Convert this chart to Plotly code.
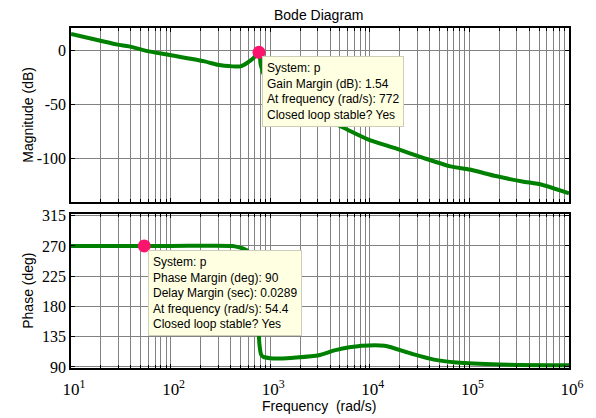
import plotly.graph_objects as go

# ---- data ----
mag_freq = [10, 19.3, 29.3, 38.2, 60.3, 94.8, 219, 296, 347, 502, 585, 681, 772,
            803, 891, 1122, 1585, 2512, 4700, 9570, 17700, 35000, 64300, 101000,
            184000, 340000, 536000, 1000000]
mag_db = [15.5, 9.5, 5.6, 4.0, -0.6, -3.7, -9.9, -13.0, -13.9, -14.5, -11.4, -6.8, -1.54,
          -13.0, -25.0, -38.0, -48.0, -58.0, -68.5, -82.0, -90.0, -99.4, -107.0, -110.0,
          -116.0, -121.0, -124.0, -132.0]

ph_freq = [10, 100, 417, 501, 585, 670, 726, 760, 778, 813, 855, 1000, 1239, 1824,
           3076, 4519, 8300, 14100, 25900, 44000, 74100, 201000, 1000000]
ph_deg = [270, 270, 270, 267.5, 263.5, 250, 220, 160, 125, 108, 105, 103, 102.5, 104,
          107.5, 115, 121.5, 121.5, 110, 101, 96.6, 93.6, 92.5]

gm_freq, gm_db = [772], [-1.54]
pm_freq, pm_deg = [54.4], [270]

decades = [1, 2, 3, 4, 5, 6]
mag_ticks = [-100, -50, 0]
ph_ticks = [90, 135, 180, 225, 270, 315]

gm_text = ["System: p", "Gain Margin (dB): 1.54", "At frequency (rad/s): 772",
           "Closed loop stable? Yes"]
pm_text = ["System: p", "Phase Margin (deg): 90", "Delay Margin (sec): 0.0289",
           "At frequency (rad/s): 54.4", "Closed loop stable? Yes"]

# ---- figure ----
GREEN = "rgb(0,128,0)"
PINK = "rgb(250,20,110)"
GRID = "rgb(130,130,130)"
SANS = "Liberation Sans, Arial, sans-serif"
SERIF = "Liberation Serif, Times New Roman, serif"

W, H = 596, 418
ML, MR, MT, MB = 71, 18, 28, 50
PW, PH = W - ML - MR, H - MT - MB

def px_x(px):
    return (px - ML) / PW

def px_y(py):
    return (H - MB - py) / PH

major_vals = [10 ** d for d in decades]
major_text = [f"10<sup>{d}</sup>" for d in decades]
minor_vals = [k * 10 ** d for d in decades[:-1] for k in range(2, 10)]

fig = go.Figure()
fig.add_trace(go.Scatter(x=mag_freq, y=mag_db, mode="lines",
                         line=dict(color=GREEN, width=4, shape="spline", smoothing=0.6),
                         xaxis="x", yaxis="y", hoverinfo="skip"))
fig.add_trace(go.Scatter(x=ph_freq, y=ph_deg, mode="lines",
                         line=dict(color=GREEN, width=4, shape="spline", smoothing=0.6),
                         xaxis="x2", yaxis="y2", hoverinfo="skip"))
fig.add_trace(go.Scatter(x=gm_freq, y=gm_db, mode="markers",
                         marker=dict(color=PINK, size=13),
                         xaxis="x", yaxis="y"))
fig.add_trace(go.Scatter(x=pm_freq, y=pm_deg, mode="markers",
                         marker=dict(color=PINK, size=13),
                         xaxis="x2", yaxis="y2"))

top_domain = [px_y(202), 1.0]
bot_domain = [0.0, px_y(214.3)]

xcommon = dict(type="log", range=[1, 6], tickmode="array", tickvals=major_vals,
               showgrid=True, gridcolor=GRID, gridwidth=1, showline=True,
               linecolor="black", linewidth=1.5, mirror="ticks", ticks="inside",
               ticklen=4, tickcolor="black", zeroline=False,
               minor=dict(tickmode="array", tickvals=minor_vals, showgrid=True,
                          gridcolor=GRID, gridwidth=1, ticks="inside", ticklen=3,
                          tickcolor="black"))
ycommon = dict(showgrid=True, gridcolor=GRID, gridwidth=1, showline=True,
               linecolor="black", linewidth=1.5, mirror="ticks", ticks="inside",
               ticklen=4, tickcolor="black", zeroline=False,
               tickfont=dict(family=SERIF, size=16, color="black"))

fig.update_layout(
    width=W, height=H, autosize=False,
    margin=dict(l=ML, r=MR, t=MT, b=MB),
    paper_bgcolor="white", plot_bgcolor="white",
    showlegend=False,
    xaxis=dict(xcommon, anchor="y", showticklabels=False),
    yaxis=dict(ycommon, domain=top_domain, range=[-140, 21], tickvals=mag_ticks,
               ticktext=[str(v) for v in mag_ticks], anchor="x"),
    xaxis2=dict(xcommon, anchor="y2", matches="x", ticktext=major_text,
                ticklabelstandoff=5, ticklabelshift=3,
                tickfont=dict(family=SERIF, size=17, color="black")),
    yaxis2=dict(ycommon, domain=bot_domain, range=[88.5, 317], tickvals=ph_ticks,
                ticktext=[str(v) for v in ph_ticks], anchor="x2"),
)

annots = [
    dict(text="Bode Diagram", x=px_x(323), y=px_y(15), xref="paper", yref="paper",
         xanchor="center", yanchor="middle", showarrow=False,
         font=dict(family=SANS, size=14, color="black")),
    dict(text="Frequency  (rad/s)", x=px_x(323), y=px_y(406), xref="paper", yref="paper",
         xanchor="center", yanchor="middle", showarrow=False,
         font=dict(family=SANS, size=14, color="black")),
    dict(text="Magnitude (dB)", x=px_x(27), y=px_y(115), xref="paper", yref="paper",
         xanchor="center", yanchor="middle", showarrow=False, textangle=-90,
         font=dict(family=SANS, size=14, color="black")),
    dict(text="Phase (deg)", x=px_x(27), y=px_y(291), xref="paper", yref="paper",
         xanchor="center", yanchor="middle", showarrow=False, textangle=-90,
         font=dict(family=SANS, size=14, color="black")),
    dict(text="<br>".join(gm_text), x=px_x(265), y=px_y(56), xref="paper", yref="paper",
         xanchor="left", yanchor="top", showarrow=False, align="left",
         bgcolor="rgb(255,255,225)", bordercolor="rgb(205,205,185)", borderwidth=1,
         borderpad=4, font=dict(family=SANS, size=12, color="black")),
    dict(text="<br>".join(pm_text), x=px_x(149), y=px_y(250), xref="paper", yref="paper",
         xanchor="left", yanchor="top", showarrow=False, align="left",
         bgcolor="rgb(255,255,225)", bordercolor="rgb(205,205,185)", borderwidth=1,
         borderpad=4, font=dict(family=SANS, size=12, color="black")),
]
fig.update_layout(annotations=annots)

fig.write_html("out.html")
